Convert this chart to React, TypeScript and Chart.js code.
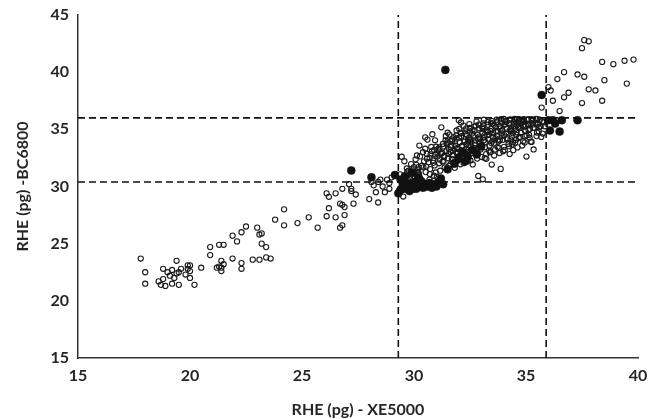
import React, { useEffect, useRef } from "react";
import { Chart, registerables } from "chart.js";

Chart.register(...registerables);

// RHE (pg) XE5000 (x) vs BC6800 (y) — open circles
const openLowX = [17.8, 18.0, 18.0, 18.6, 18.7, 18.9, 18.8, 19.1, 19.0, 18.8, 19.4, 19.2, 19.4, 19.3, 19.6, 19.5, 19.2, 19.5, 19.9, 20.0, 19.9, 20.0, 19.8, 20.0, 20.2, 20.5, 21.2, 21.4, 21.4, 21.5, 21.4, 21.3, 20.9, 20.9, 21.3, 21.5, 21.9, 21.9, 22.1, 22.3, 22.5, 22.3, 22.3, 22.8, 23.1, 23.0, 23.1, 23.2, 23.2, 23.4, 23.4, 23.6, 23.8, 24.2, 24.2, 24.8, 25.3, 25.7];
const openLowY = [23.7, 22.5, 21.5, 21.7, 21.4, 21.3, 21.9, 22.2, 22.5, 22.8, 23.5, 22.7, 22.4, 22.0, 22.8, 22.5, 21.5, 21.4, 23.1, 23.1, 22.8, 22.6, 22.3, 22.0, 21.4, 22.9, 22.9, 22.9, 23.5, 23.2, 22.6, 23.0, 24.7, 24.0, 24.9, 24.9, 23.7, 25.7, 25.2, 26.0, 26.5, 22.8, 23.3, 23.6, 23.6, 26.4, 25.8, 25.9, 25.0, 24.7, 23.8, 23.7, 27.1, 28.0, 26.6, 26.8, 27.3, 26.4];

const openMidX = [26.1, 26.2, 26.5, 26.8, 26.2, 26.1, 26.5, 26.7, 26.9, 26.8, 26.9, 26.8, 26.7, 27.1, 27.2, 27.2, 27.4, 27.3, 28.0, 28.1, 28.2, 28.3, 28.4, 28.5, 28.4, 28.6, 28.8, 28.9, 29.0, 28.7, 28.9];
const openMidY = [29.4, 29.1, 29.4, 29.8, 28.1, 27.4, 27.3, 28.5, 28.2, 28.4, 27.5, 26.6, 26.4, 30.2, 29.8, 29.6, 29.3, 28.5, 28.9, 30.4, 30.1, 29.5, 30.4, 30.6, 28.6, 30.0, 30.6, 30.3, 30.8, 29.5, 29.8];

const openHighX = [29.45, 29.9, 30.1, 30.2, 30.0, 30.2, 30.4, 30.5, 30.8, 30.9, 30.5, 30.6, 31.5, 31.9, 32.0, 32.1, 35.7, 36.0, 36.1, 36.2, 36.4, 36.5, 36.7, 36.7, 36.9, 37.3, 37.5, 37.5, 37.6, 37.6, 37.8, 37.8, 38.1, 38.4, 38.4, 38.5, 38.9, 39.4, 39.5, 39.8];
const openHighY = [32.6, 31.5, 31.9, 31.7, 31.3, 31.2, 33.0, 33.3, 33.1, 33.2, 34.3, 34.1, 34.7, 34.9, 35.8, 35.6, 36.9, 38.7, 38.4, 37.5, 39.4, 36.6, 40.0, 37.8, 38.2, 39.8, 37.3, 42.1, 42.8, 39.6, 42.7, 38.5, 38.4, 40.9, 37.5, 39.3, 40.7, 41.0, 39.0, 41.1];

const cloudX = [
  29.33, 29.46, 29.38, 29.52,
  29.55, 29.68, 29.61, 29.71, 29.57,
  29.82, 29.95, 29.87, 29.99, 29.84,
  30.04, 30.18, 30.07, 30.15,
  30.22, 30.35, 30.27, 30.39, 30.24,
  30.52, 30.65, 30.57, 30.69, 30.54,
  30.72, 30.85, 30.77, 30.89, 30.74, 30.82,
  30.92, 31.05, 30.97, 31.09, 30.94, 31.02,
  31.12, 31.25, 31.17, 31.29, 31.14, 31.22,
  31.32, 31.45, 31.37, 31.49, 31.34, 31.42,
  31.52, 31.65, 31.57, 31.69, 31.54, 31.62,
  31.72, 31.85, 31.77, 31.89, 31.74, 31.82,
  31.92, 32.05, 31.97, 32.09, 31.94, 32.02, 32.07,
  32.12, 32.25, 32.17, 32.29, 32.14, 32.22,
  32.32, 32.45, 32.37, 32.49, 32.34, 32.42, 32.47,
  32.52, 32.65, 32.57, 32.69, 32.54, 32.62,
  32.72, 32.85, 32.77, 32.89, 32.74, 32.82, 32.87,
  32.92, 33.05, 32.97, 33.09, 32.94, 33.02, 33.07,
  33.12, 33.25, 33.17, 33.29, 33.14, 33.22,
  33.32, 33.45, 33.37, 33.49, 33.34, 33.42, 33.47,
  33.52, 33.65, 33.57, 33.69, 33.54, 33.62,
  33.72, 33.85, 33.77, 33.89, 33.74, 33.82, 33.87,
  33.92, 34.05, 33.97, 34.09, 33.94, 34.02,
  34.12, 34.25, 34.17, 34.29, 34.14, 34.22, 34.27,
  34.32, 34.45, 34.37, 34.49, 34.34, 34.42,
  34.52, 34.65, 34.57, 34.69, 34.54, 34.62,
  34.72, 34.85, 34.77, 34.89, 34.74,
  34.92, 35.05, 34.97, 35.09, 34.94, 35.02,
  35.12, 35.25, 35.17, 35.29, 35.14,
  35.32, 35.45, 35.37, 35.49, 35.34,
  35.52, 35.65, 35.57,
  35.72, 35.85,
  29.7, 30.0, 30.45, 30.7, 30.95, 31.1, 31.3, 31.5, 31.7, 31.9, 32.1, 32.3, 32.5, 32.7, 32.9, 33.1, 33.3, 33.5, 33.7, 33.9, 34.1, 34.3, 34.5, 34.7, 34.9, 35.1, 35.3, 35.5,
  31.05, 31.35, 31.65, 31.95, 32.25, 32.55, 32.85, 33.15, 33.45, 33.75, 34.05, 34.35, 34.65, 34.95, 35.25,
  31.13, 31.28, 31.41, 31.56, 31.63, 31.77, 31.88, 31.96, 32.08, 32.16, 32.27, 32.33, 32.41, 32.52, 32.59, 32.68, 32.76, 32.84, 32.93, 33.01, 33.08, 33.16, 33.27, 33.35, 33.43, 33.51, 33.58, 33.66, 33.73, 33.82, 33.91, 33.98, 34.07, 34.16, 34.24, 34.33, 34.41, 34.52, 34.61, 34.68, 34.79, 34.87, 34.96, 35.08, 35.16, 35.33, 35.47, 35.61, 35.74, 30.42, 30.58, 30.71, 30.86, 30.99, 29.76, 29.92, 30.13, 30.27
];
const cloudY = [
  29.64, 30.37, 31.06, 29.12,
  30.93, 31.58, 29.87, 30.34, 32.21,
  30.62, 31.14, 31.96, 29.73, 30.18,
  30.83, 31.41, 32.38, 30.02,
  31.07, 31.82, 32.63, 30.44, 33.58,
  31.26, 32.13, 32.87, 30.61, 31.74,
  31.52, 32.28, 33.46, 30.94, 32.81, 34.57,
  31.84, 32.62, 31.23, 33.17, 34.04, 30.83,
  32.03, 32.94, 31.38, 33.72, 32.36, 35.18,
  32.24, 33.08, 31.66, 33.93, 32.58, 34.42,
  32.47, 33.44, 31.82, 34.13, 32.86, 33.02,
  32.73, 33.57, 32.14, 34.48, 33.12, 31.63,
  32.91, 33.84, 32.27, 34.64, 33.28, 35.03, 31.94,
  33.13, 34.02, 32.57, 34.83, 33.52, 32.04,
  33.26, 34.23, 32.74, 35.12, 33.68, 32.33, 35.46,
  33.54, 34.38, 32.92, 35.24, 33.87, 31.93,
  33.62, 34.53, 33.08, 35.41, 34.03, 32.44, 30.92,
  33.83, 34.68, 33.24, 35.52, 34.17, 32.58, 30.63,
  34.04, 34.87, 33.43, 35.63, 34.32, 32.83,
  34.12, 35.04, 33.57, 35.72, 34.53, 33.04, 31.92,
  34.33, 35.18, 33.76, 35.84, 34.67, 33.23,
  34.42, 35.27, 33.94, 35.88, 34.82, 32.93, 31.54,
  34.63, 35.42, 34.08, 35.77, 34.92, 33.47,
  34.72, 35.53, 34.23, 35.86, 35.03, 33.72, 32.84,
  34.84, 35.62, 34.37, 35.91, 35.17, 33.88,
  35.03, 35.68, 34.52, 35.23, 34.07, 33.42,
  35.12, 35.79, 34.68, 35.37, 34.33,
  35.23, 35.82, 34.87, 35.48, 33.84, 32.62,
  35.34, 35.88, 35.03, 35.57, 34.52,
  35.43, 35.92, 35.13, 34.72, 33.24,
  35.52, 35.24, 34.83,
  35.68, 35.27,
  31.3, 31.7, 32.2, 32.5, 32.8, 33.3, 33.5, 33.8, 34.0, 34.2, 34.4, 34.6, 34.8, 34.9, 35.1, 35.3, 35.4, 35.5, 35.6, 35.6, 35.7, 35.8, 35.8, 35.9, 35.9, 35.9, 35.8, 35.9,
  32.9, 32.7, 33.6, 33.0, 33.9, 34.1, 34.2, 34.5, 33.8, 34.1, 33.2, 34.9, 35.2, 34.4, 33.9,
  33.42, 32.18, 34.05, 33.27, 31.95, 34.31, 33.02, 32.44, 34.72, 33.58, 32.81, 35.08, 33.96, 32.28, 34.63, 33.37, 35.31, 32.95, 34.18, 33.61, 35.02, 32.49, 34.48, 33.14, 35.57, 34.02, 32.71, 34.86, 33.45, 35.22, 34.38, 33.08, 35.46, 34.12, 33.51, 35.04, 34.66, 33.82, 35.37, 34.24, 35.71, 33.96, 34.88, 35.48, 34.27, 35.12, 34.41, 35.84, 34.63, 31.68, 32.43, 31.09, 32.07, 33.48, 31.38, 30.81, 32.71, 30.74
];

// extra open circles in the densest part of the cloud
const denseX = [31.21, 31.47, 31.69, 31.83, 32.01, 32.19, 32.36, 32.44, 32.61, 32.73, 32.91, 33.04, 33.19, 33.31, 33.39, 33.56, 33.64, 33.79, 33.86, 34.03, 34.11, 34.28, 34.36, 34.47, 34.58, 34.74, 34.83, 34.99, 35.11, 35.27, 35.42, 35.58, 35.68, 35.81, 31.58, 31.91, 32.21, 32.48, 32.79, 33.12, 33.41, 33.71, 34.01, 34.31, 34.59, 34.91, 35.21, 35.53, 32.03, 32.63, 33.23, 33.83, 34.43, 35.03];
const denseY = [32.86, 33.71, 32.42, 33.93, 34.27, 32.93, 34.52, 33.44, 34.91, 33.78, 34.36, 35.18, 33.89, 34.77, 32.98, 35.39, 34.21, 33.37, 35.06, 34.49, 35.63, 34.91, 33.66, 35.28, 34.74, 35.51, 33.58, 35.34, 34.96, 35.74, 35.56, 35.18, 34.34, 35.62, 34.54, 33.36, 35.32, 34.07, 35.67, 35.84, 34.86, 35.67, 35.91, 34.13, 35.88, 35.69, 33.92, 35.41, 32.66, 33.17, 32.42, 34.04, 33.18, 34.46];

// filled circles
const filledX = [31.4, 27.2, 28.1, 29.15, 29.4, 29.5, 29.6, 29.7, 29.8, 29.9, 30.0, 30.1, 30.2, 30.3, 30.4, 30.5, 30.6, 30.7, 30.8, 30.9, 31.0, 31.1, 31.2, 31.3, 29.3, 29.4, 29.6, 30.2, 29.9, 31.5, 31.8, 32.0, 32.2, 32.4, 32.6, 32.8, 33.0, 32.3, 35.7, 36.0, 36.2, 36.3, 36.6, 36.5, 36.07, 37.3];
const filledY = [40.2, 31.4, 30.8, 31.0, 30.6, 30.1, 29.8, 30.3, 29.6, 30.0, 30.4, 29.8, 30.1, 30.5, 29.9, 30.2, 30.0, 30.3, 29.9, 30.2, 30.0, 30.4, 30.7, 30.2, 29.4, 29.7, 30.9, 30.8, 31.2, 31.5, 32.0, 32.5, 33.0, 32.6, 33.2, 32.8, 33.5, 32.2, 38.0, 35.8, 35.8, 35.5, 35.8, 34.8, 34.9, 35.8];

// cut-off lines
const cutoffX = [29.3, 35.9];
const cutoffY = [30.4, 36.0];

const xTicks = [15, 20, 25, 30, 35, 40];
const yTicks = [15, 20, 25, 30, 35, 40, 45];
const X_MIN = 15, X_MAX = 40, Y_MIN = 15, Y_MAX = 45;

const zip = (xs: number[], ys: number[]) => xs.map((x, i) => ({ x, y: ys[i] }));

export default function App() {
  const ref = useRef<HTMLCanvasElement | null>(null);
  useEffect(() => {
    if (!ref.current) return;
    const font = "Lato, 'Liberation Sans', sans-serif";
    const textColor = "#262626";
    const openPts = [
      ...zip(openLowX, openLowY),
      ...zip(openMidX, openMidY),
      ...zip(openHighX, openHighY),
      ...zip(cloudX, cloudY),
      ...zip(denseX, denseY),
    ];
    const dashStyle = {
      type: "line" as const,
      showLine: true,
      borderColor: "#111",
      borderWidth: 1.6,
      borderDash: [7, 4],
      pointRadius: 0,
      fill: false,
      order: 0,
    };
    const chart = new Chart(ref.current, {
      type: "scatter",
      data: {
        datasets: [
          ...cutoffX.map((cx) => ({
            ...dashStyle,
            data: [{ x: cx, y: Y_MIN }, { x: cx, y: Y_MAX }],
          })),
          ...cutoffY.map((cy) => ({
            ...dashStyle,
            data: [{ x: X_MIN, y: cy }, { x: X_MAX, y: cy }],
          })),
          {
            data: zip(filledX, filledY),
            pointRadius: 4,
            pointBackgroundColor: "#111",
            pointBorderColor: "#111",
            pointBorderWidth: 0.5,
            order: 1,
          } as any,
          {
            data: openPts,
            pointRadius: 2.6,
            pointBackgroundColor: "rgba(255,255,255,0)",
            pointBorderColor: "#1a1a1a",
            pointBorderWidth: 1.1,
            order: 2,
          } as any,
        ],
      },
      options: {
        responsive: false,
        animation: false,
        events: [],
        layout: { padding: { left: 0, right: 21, top: 15, bottom: 0 } },
        plugins: { legend: { display: false }, tooltip: { enabled: false } },
        scales: {
          x: {
            type: "linear",
            min: X_MIN,
            max: X_MAX,
            afterBuildTicks: (s: any) => { s.ticks = xTicks.map((v) => ({ value: v })); },
            afterFit: (s: any) => { s.height = 61; },
            grid: { display: false, drawTicks: true, tickLength: 5, tickColor: "#333" },
            border: { display: true, color: "#333", width: 1.5 },
            ticks: { color: textColor, font: { family: font, size: 16, weight: "bold" }, padding: 3 },
            title: { display: true, text: "RHE (pg) - XE5000", color: textColor, font: { family: font, size: 16, weight: "bold" }, padding: { top: 1, bottom: 0 } },
          },
          y: {
            type: "linear",
            min: Y_MIN,
            max: Y_MAX,
            afterBuildTicks: (s: any) => { s.ticks = yTicks.map((v) => ({ value: v })); },
            afterFit: (s: any) => { s.width = 78; },
            grid: { display: false, drawTicks: true, tickLength: 5, tickColor: "#333" },
            border: { display: true, color: "#333", width: 1.5 },
            ticks: { color: textColor, font: { family: font, size: 16, weight: "bold" }, padding: 4 },
            title: { display: true, text: "RHE (pg) -BC6800", color: textColor, font: { family: font, size: 16, weight: "bold" }, padding: { top: 13, bottom: 0 } },
          },
        },
      },
    } as any);
    return () => chart.destroy();
  }, []);
  return (
    <div style={{ position: "fixed", left: 0, top: 0, width: 659, height: 419, background: "#fff" }}>
      <canvas ref={ref} width={659} height={419} style={{ width: 659, height: 419, display: "block" }} />
    </div>
  );
}
